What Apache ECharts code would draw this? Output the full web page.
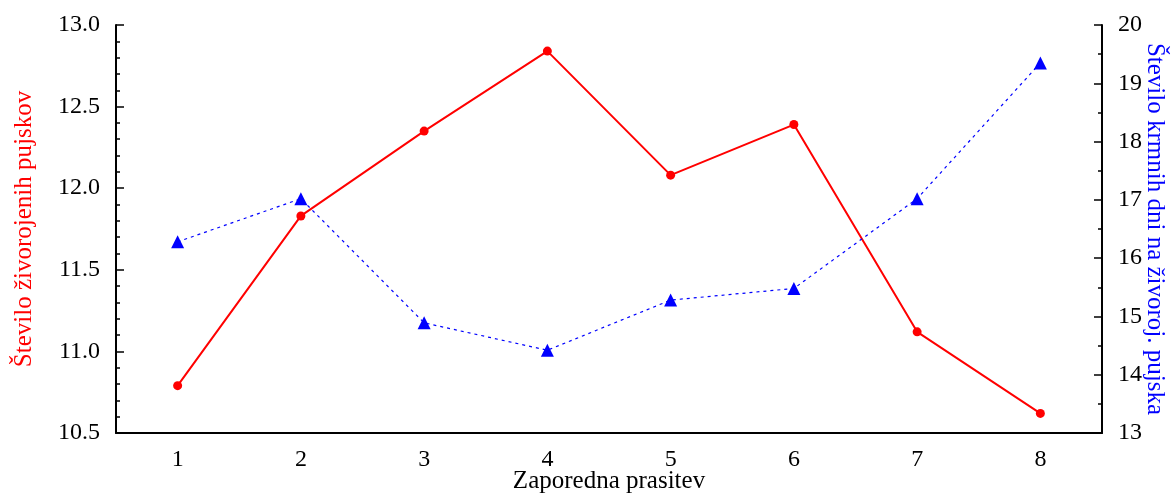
<!DOCTYPE html>
<html>
<head>
<meta charset="utf-8">
<script src="https://cdn.jsdelivr.net/npm/echarts@6/dist/echarts.min.js"></script>
<style>
  html, body { margin: 0; padding: 0; background: #fff; }
  #chart { width: 1172px; height: 493px; }
</style>
</head>
<body>
<div id="chart"></div>
<script>
  // zaporedna prasitev
  const categories = ['1', '2', '3', '4', '5', '6', '7', '8'];
  // stevilo zivorojenih pujskov (leva os)
  const zivorojeni = [10.79, 11.83, 12.35, 12.84, 12.08, 12.39, 11.12, 10.62];
  // stevilo krmnih dni na zivoroj. pujska (desna os)
  const krmniDnevi = [16.28, 17.02, 14.89, 14.42, 15.28, 15.48, 17.02, 19.35];

  const serif = 'Liberation Serif';
  const chart = echarts.init(document.getElementById('chart'));

  chart.setOption({
    animation: false,
    textStyle: { fontFamily: serif },
    grid: {
      left: 116,
      right: 70,
      top: 25,
      bottom: 60,
      outerBoundsMode: 'none'
    },
    xAxis: {
      type: 'category',
      data: categories,
      boundaryGap: true,
      name: 'Zaporedna prasitev',
      nameLocation: 'middle',
      nameGap: 36,
      nameMoveOverlap: false,
      nameTextStyle: { fontFamily: serif, fontSize: 25, color: '#000' },
      axisLine: { lineStyle: { color: '#000', width: 2 } },
      axisTick: { inside: true, alignWithLabel: true, length: 8, lineStyle: { color: '#000', width: 1.5 } },
      axisLabel: { fontFamily: serif, fontSize: 24, color: '#000', margin: 15 },
      splitLine: { show: false }
    },
    yAxis: [
      {
        type: 'value',
        position: 'left',
        min: 10.5,
        max: 13,
        interval: 0.5,
        name: 'Število živorojenih pujskov',
        nameLocation: 'middle',
        nameRotate: 90,
        nameGap: 79,
        nameMoveOverlap: false,
        nameTextStyle: { fontFamily: serif, fontSize: 25, color: '#ff0000' },
        axisLine: { show: true, lineStyle: { color: '#000', width: 2 } },
        axisTick: { show: true, inside: true, length: 8, lineStyle: { color: '#000', width: 1.5 } },
        minorTick: { show: true, splitNumber: 5, length: 4, lineStyle: { color: '#000', width: 1.5 } },
        axisLabel: {
          fontFamily: serif, fontSize: 24, color: '#000', margin: 16,
          formatter: v => v.toFixed(1)
        },
        splitLine: { show: false }
      },
      {
        type: 'value',
        position: 'right',
        min: 13,
        max: 20,
        interval: 1,
        name: 'Število krmnih dni na živoroj. pujska',
        nameLocation: 'middle',
        nameRotate: -90,
        nameGap: 40,
        nameMoveOverlap: false,
        nameTextStyle: { fontFamily: serif, fontSize: 25, color: '#0000ff' },
        axisLine: { show: true, lineStyle: { color: '#000', width: 2 } },
        axisTick: { show: true, inside: true, length: 8, lineStyle: { color: '#000', width: 1.5 } },
        minorTick: { show: true, splitNumber: 2, length: 4, lineStyle: { color: '#000', width: 1.5 } },
        axisLabel: { fontFamily: serif, fontSize: 24, color: '#000', margin: 16 },
        splitLine: { show: false }
      }
    ],
    series: [
      {
        name: 'Število živorojenih pujskov',
        type: 'line',
        yAxisIndex: 0,
        data: zivorojeni,
        symbol: 'circle',
        symbolSize: 9,
        itemStyle: { color: '#ff0000' },
        lineStyle: { color: '#ff0000', width: 2 }
      },
      {
        name: 'Število krmnih dni na živoroj. pujska',
        type: 'line',
        yAxisIndex: 1,
        data: krmniDnevi,
        symbol: 'triangle',
        symbolSize: 13,
        itemStyle: { color: '#0000ff' },
        lineStyle: { color: '#0000ff', width: 1.2, type: [3, 4] }
      }
    ]
  });
</script>
</body>
</html>
